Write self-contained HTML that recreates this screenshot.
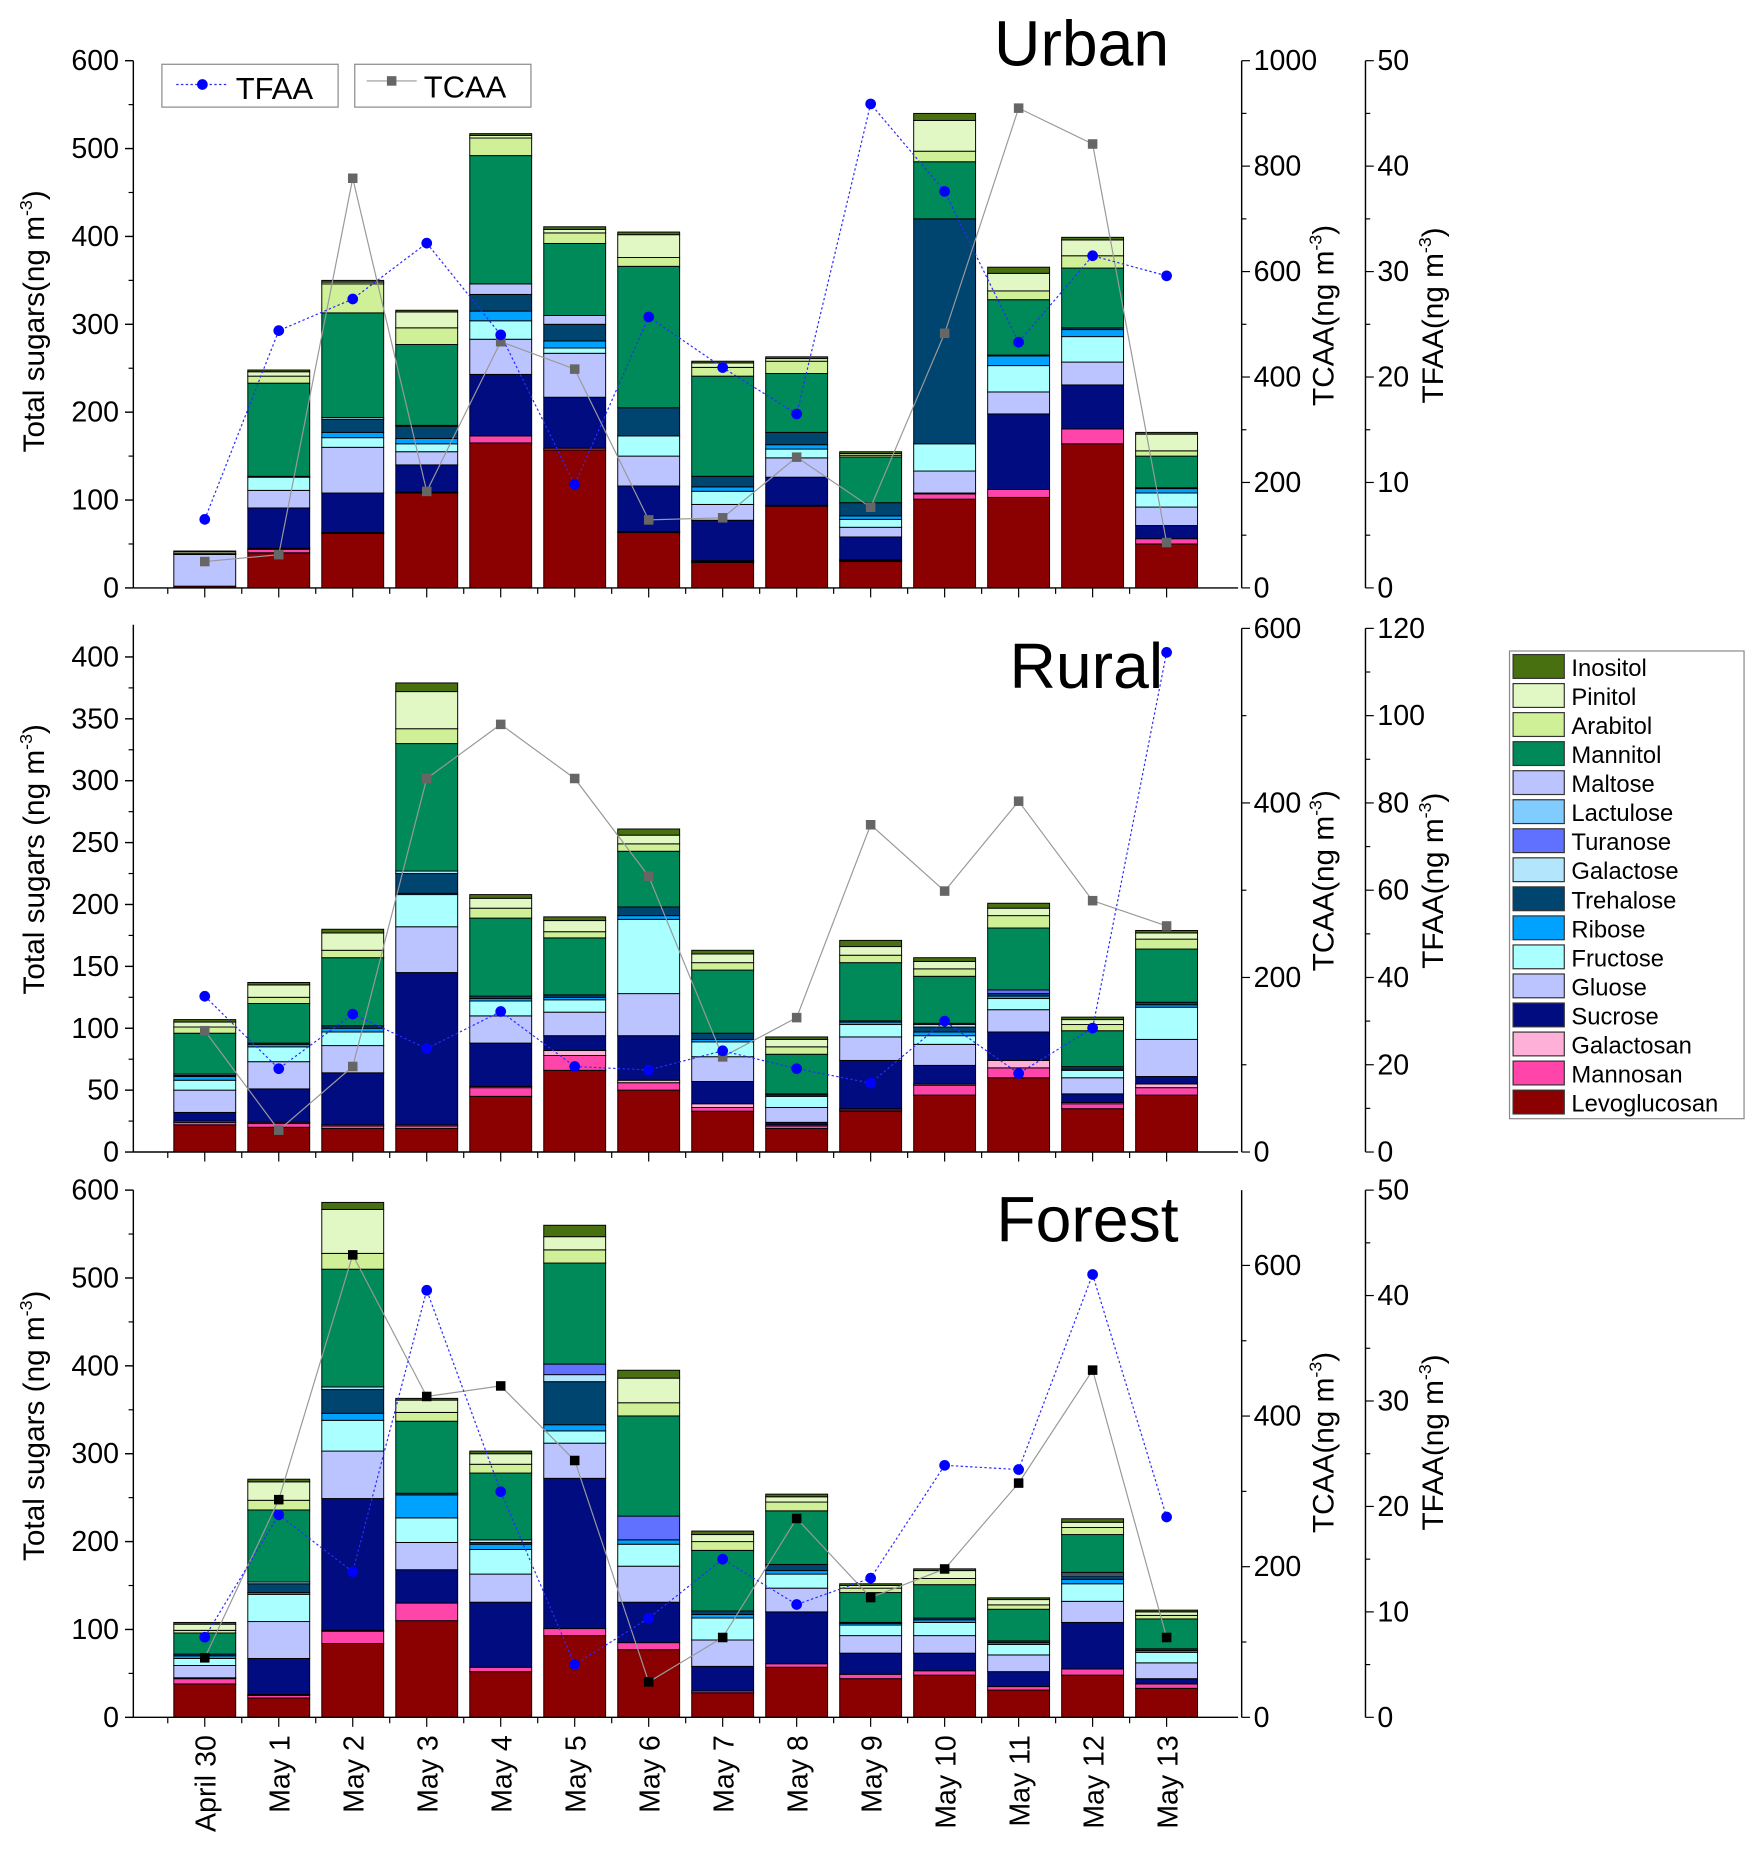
<!DOCTYPE html>
<html><head><meta charset="utf-8"><style>
html,body{margin:0;padding:0;background:#fff;}
svg{display:block;font-family:"Liberation Sans",Arial,sans-serif;}
</style></head><body>
<svg id="chart" width="1750" height="1853" viewBox="0 0 1470 1557" preserveAspectRatio="none" xmlns="http://www.w3.org/2000/svg"></svg>
<script>
const categories = ["April 30","May 1","May 2","May 3","May 4","May 5","May 6","May 7","May 8","May 9","May 10","May 11","May 12","May 13"];
const components = ["Levoglucosan","Mannosan","Galactosan","Sucrose","Gluose","Fructose","Ribose","Trehalose","Galactose","Turanose","Lactulose","Maltose","Mannitol","Arabitol","Pinitol","Inositol"];
const colors = ["#8b0000","#ff44aa","#ffb0d8","#000c80","#bcc4ff","#aaffff","#00a2ff","#004470","#b3e5fc","#6070ff","#80ccff","#bcc4ff","#008a5a","#d0f098","#e2f8c4","#487010"];
// per-bar component values [levo,man,gal,suc,glu,fru,rib,tre,galactose,tur,lac,mal,mannitol,arab,pin,ino]
const urbanValues = [
[2,0,0,0,36,0,0,0,0,0,0,0,0,1,2,1],
[40,4,1,46,20,15,0,0,1,0,0,0,106,8,5,2],
[62,1,0,45,52,11,6,15,2,0,0,0,119,33,2,2],
[108,1,0,31,15,9,6,14,1,0,0,0,92,19,18,2],
[165,8,0,70,40,21,11,19,0,0,0,12,146,20,3,2],
[157,2,0,58,50,6,8,19,0,0,0,10,82,12,4,3],
[63,1,0,52,34,23,0,32,0,0,0,0,161,10,26,3],
[29,1,1,46,18,15,5,12,0,0,0,0,114,10,5,2],
[93,1,0,32,22,10,5,14,0,0,0,0,67,14,3,2],
[30,1,1,26,11,9,4,15,0,0,0,0,52,2,2,2],
[101,6,1,0,25,31,0,256,0,0,0,0,65,12,35,8],
[103,9,0,86,25,30,11,1,0,0,0,0,63,10,20,7],
[164,17,0,50,26,29,8,2,0,0,0,0,68,14,18,3],
[50,6,0,15,21,16,5,1,0,0,0,0,36,6,19,2]];
const urbanTFAA = [6.5,24.4,27.4,32.7,24,9.8,25.7,20.9,16.5,45.9,37.6,23.3,31.5,29.6];
const urbanTCAA = [50,63,777,183,467,415,129,133,248,153,483,910,842,86];
const ruralValues = [
[22,2,1,7,18,8,3,1,1,0,0,0,33,5,4,2],
[20,3,1,27,22,12,2,1,0,0,0,0,32,5,10,2],
[19,2,1,42,22,11,3,2,0,0,0,0,55,6,14,3],
[19,2,1,123,37,26,1,16,2,0,0,0,103,12,30,7],
[45,7,1,35,22,12,2,2,0,0,0,0,63,8,8,3],
[66,12,4,12,19,10,2,2,0,0,0,0,46,5,9,3],
[50,6,2,36,34,60,3,7,0,0,0,0,45,6,7,5],
[33,3,3,18,20,12,2,5,0,0,0,0,51,6,7,3],
[19,2,1,2,12,9,1,1,0,0,0,0,32,6,6,2],
[33,1,1,39,19,10,2,1,0,0,0,0,47,6,7,5],
[46,8,1,15,17,7,3,4,2,1,0,0,38,6,6,3],
[60,8,6,23,18,9,2,2,0,3,0,0,50,10,6,4],
[35,4,1,7,13,6,1,2,0,0,0,0,29,5,4,2],
[46,6,3,6,30,26,2,2,0,0,0,0,43,8,5,2]];
const ruralTFAA = [35.7,19.1,31.6,23.7,32.2,19.6,18.8,23.2,19.1,15.8,30,18,28.4,114.5];
const ruralTCAA = [139,25,98,428,490,428,316,109,154,375,299,402,288,259];
const forestValues = [
[38,6,1,0,14,8,3,2,0,0,0,0,24,3,7,2],
[22,3,1,41,42,31,2,10,2,0,0,0,82,11,21,3],
[84,14,1,150,54,35,8,27,3,0,0,0,134,18,50,8],
[110,20,0,38,31,28,26,2,0,0,0,0,82,10,14,2],
[52,5,0,74,32,28,6,2,3,0,0,0,76,10,12,3],
[93,8,0,171,40,14,7,49,8,12,0,0,115,15,15,13],
[77,8,0,46,41,25,5,0,0,27,0,0,114,15,28,9],
[28,2,0,28,30,25,4,4,0,0,0,0,69,10,8,4],
[57,4,0,59,27,16,4,7,0,0,0,0,61,10,6,3],
[44,5,0,24,20,12,2,1,0,0,0,0,34,5,3,2],
[48,5,0,20,20,15,3,2,0,0,0,0,38,7,9,2],
[31,4,0,17,19,12,2,2,0,0,0,0,36,5,6,2],
[48,7,0,53,24,20,5,4,2,2,0,0,43,8,6,4],
[33,5,0,6,18,12,2,2,0,0,0,0,34,4,4,2]];
const forestTFAA = [7.6,19.2,13.8,40.5,21.4,5,9.4,15,10.7,13.2,23.9,23.5,42,19];
const forestTCAA = [79,289,614,426,440,341,47,106,264,159,197,311,461,106];
const urbanTicks = [0,100,200,300,400,500,600];
const ruralTicks = [0,50,100,150,200,250,300,350,400];
const forestTicks = [0,100,200,300,400,500,600];

const NS="http://www.w3.org/2000/svg";
const svg=document.getElementById('chart');
function mk(tag,attrs,parent){const e=document.createElementNS(NS,tag);for(const k in attrs)e.setAttribute(k,attrs[k]);(parent||svg).appendChild(e);return e;}
function txt(s,attrs,parent){const e=mk('text',attrs,parent);e.textContent=s;return e;}
const X0=112,X1=1040,CX0=172,STEP=62.15,BW=52;
function xPos(i){return CX0+i*STEP;}

function panel(p){
  const g=mk('g',{});
  
  
  const yL=v=>p.y0-(v-0)/p.lmax*(p.y0-p.ytop);
  const yC=v=>p.y0-v/p.cmax*(p.y0-p.ytopR);
  const yF=v=>p.y0-v/p.fmax*(p.y0-p.ytopR);
  // bars
  p.values.forEach((row,i)=>{
    let acc=0;
    row.forEach((v,k)=>{
      if(v<=0)return;
      const r=mk('rect',{x:xPos(i)-BW/2,y:yL(acc+v),width:BW,height:yL(acc)-yL(acc+v),fill:colors[k],stroke:'#000','stroke-width':0.8},g);
      
      
      acc+=v;
    });
  });
  // left axis
  mk('line',{x1:X0,y1:p.y0,x2:X0,y2:p.ytopAxis,stroke:'#000','stroke-width':1.2},g);
  mk('line',{x1:X0,y1:p.y0,x2:X1,y2:p.y0,stroke:'#000','stroke-width':1.2},g);
  p.ticks.forEach((t,j)=>{
    const y=yL(t);
    mk('line',{x1:X0-7,y1:y,x2:X0,y2:y,stroke:'#000','stroke-width':1.2},g);
    if(j<p.ticks.length-1){const ym=yL(t+(p.ticks[1]-p.ticks[0])/2);mk('line',{x1:X0-4,y1:ym,x2:X0,y2:ym,stroke:'#000'},g);}
    const l=txt(String(t),{x:X0-12,y:y+8,'font-size':24,'text-anchor':'end'},g);
    
    
  });
  categories.forEach((c,i)=>{
    mk('line',{x1:xPos(i),y1:p.y0,x2:xPos(i),y2:p.y0+8,stroke:'#000'},g);
    mk('line',{x1:xPos(i)-STEP/2,y1:p.y0,x2:xPos(i)-STEP/2,y2:p.y0+5,stroke:'#000'},g);
  });
  // right axes
  const RA=1043,RB=1147;
  [[RA,p.cTicks,yC,p.cmax],[RB,p.fTicks,yF,p.fmax]].forEach(([ax,tk,fn])=>{
    mk('line',{x1:ax,y1:p.y0,x2:ax,y2:p.ytopR,stroke:'#000','stroke-width':1.2},g);
    tk.forEach((t,j)=>{
      const y=fn(t);
      mk('line',{x1:ax,y1:y,x2:ax+7,y2:y,stroke:'#000'},g);
      if(j<tk.length-1){const ym=fn(t+(tk[1]-tk[0])/2);mk('line',{x1:ax,y1:ym,x2:ax+4,y2:ym,stroke:'#000'},g);}
      const l=txt(String(t),{x:ax+10,y:y+8,'font-size':24},g);
      
      
    });
  });
  // TCAA line
  const cpts=p.tcaa.map((v,i)=>xPos(i)+','+yC(v)).join(' ');
  const cl=mk('polyline',{points:cpts,fill:'none',stroke:'#999','stroke-width':1},g);
  
  
  const fpts=p.tfaa.map((v,i)=>xPos(i)+','+yF(v)).join(' ');
  const fl=mk('polyline',{points:fpts,fill:'none',stroke:'#2a2aff','stroke-width':1,'stroke-dasharray':'2,2'},g);
  
  
  p.tcaa.forEach((v,i)=>{
    const s=mk('rect',{x:xPos(i)-4,y:yC(v)-4,width:8,height:8,fill:p.sqColor},g);
    
    
  });
  p.tfaa.forEach((v,i)=>{
    const c=mk('circle',{cx:xPos(i),cy:yF(v),r:4.5,fill:'#0000ff'},g);
    
    
  });
  // titles
  const t=txt(p.title,{x:p.tx,y:p.ty,'font-size':54},g);
  
  
  const yt=txt(p.ylabel,{x:0,y:0,'font-size':25,'text-anchor':'middle',transform:`translate(37,${p.ymid}) rotate(-90)`},g);
  yt.innerHTML=p.ylabel+'<tspan font-size="15" dy="-10">-3</tspan><tspan dy="10">)</tspan>';
  
  
  const ct=txt('',{x:0,y:0,'font-size':25,'text-anchor':'middle',transform:`translate(1120,${p.rmid}) rotate(-90)`},g);
  ct.innerHTML='TCAA(ng m<tspan font-size="15" dy="-10">-3</tspan><tspan dy="10">)</tspan>';
  
  
  const ft=txt('',{x:0,y:0,'font-size':25,'text-anchor':'middle',transform:`translate(1212,${p.rmid}) rotate(-90)`},g);
  ft.innerHTML='TFAA(ng m<tspan font-size="15" dy="-10">-3</tspan><tspan dy="10">)</tspan>';
  
  
}
panel({name:'urban',title:'Urban',tx:835,ty:55,values:urbanValues,tcaa:urbanTCAA,tfaa:urbanTFAA,y0:494,ytop:51,ytopAxis:51,ytopR:51,lmax:600,cmax:1000,fmax:50,ticks:urbanTicks,cTicks:[0,200,400,600,800,1000],fTicks:[0,10,20,30,40,50],sqColor:'#666',ylabel:'Total sugars(ng m',ymid:270,rmid:265});
panel({name:'rural',title:'Rural',tx:848,ty:578,values:ruralValues,tcaa:ruralTCAA,tfaa:ruralTFAA,y0:968,ytop:552,ytopAxis:525,ytopR:528,lmax:400,cmax:600,fmax:120,ticks:ruralTicks,cTicks:[0,200,400,600],fTicks:[0,20,40,60,80,100,120],sqColor:'#666',ylabel:'Total sugars (ng m',ymid:722,rmid:740});
panel({name:'forest',title:'Forest',tx:837,ty:1043,values:forestValues,tcaa:forestTCAA,tfaa:forestTFAA,y0:1443,ytop:1000,ytopAxis:1000,ytopR:1000,lmax:600,cmax:700,fmax:50,ticks:forestTicks,cTicks:[0,200,400,600],fTicks:[0,10,20,30,40,50],sqColor:'#000',ylabel:'Total sugars (ng m',ymid:1198,rmid:1212});
// x labels
categories.forEach((c,i)=>{
  const l=txt(c,{x:0,y:0,'font-size':24,'text-anchor':'end',transform:`translate(${xPos(i)+9},1458) rotate(-90)`});
  
  
});
// top legend
const lg1=mk('g',{});


mk('rect',{x:136,y:54,width:148,height:36,fill:'#fff',stroke:'#888'},lg1);
mk('line',{x1:148,y1:71,x2:190,y2:71,stroke:'#2a2aff','stroke-dasharray':'2,2'},lg1);
mk('circle',{cx:170,cy:71,r:4.5,fill:'#00f'},lg1);
txt('TFAA',{x:198,y:83,'font-size':26},lg1);
const lg2=mk('g',{});


mk('rect',{x:298,y:54,width:148,height:36,fill:'#fff',stroke:'#888'},lg2);
mk('line',{x1:308,y1:68,x2:350,y2:68,stroke:'#999'},lg2);
mk('rect',{x:325,y:64,width:8,height:8,fill:'#666'},lg2);
txt('TCAA',{x:356,y:82,'font-size':26},lg2);
// component legend
const lg=mk('g',{});


mk('rect',{x:1268,y:547,width:197,height:393,fill:'#fff',stroke:'#888'},lg);
for(let k=components.length-1,j=0;k>=0;k--,j++){
  const y=550+j*24.4;
  const e=mk('g',{},lg);
  
  
  mk('rect',{x:1271,y:y,width:43,height:20,fill:colors[k],stroke:'#333'},e);
  txt(components[k],{x:1320,y:y+18,'font-size':20},e);
}
</script>
</body></html>
